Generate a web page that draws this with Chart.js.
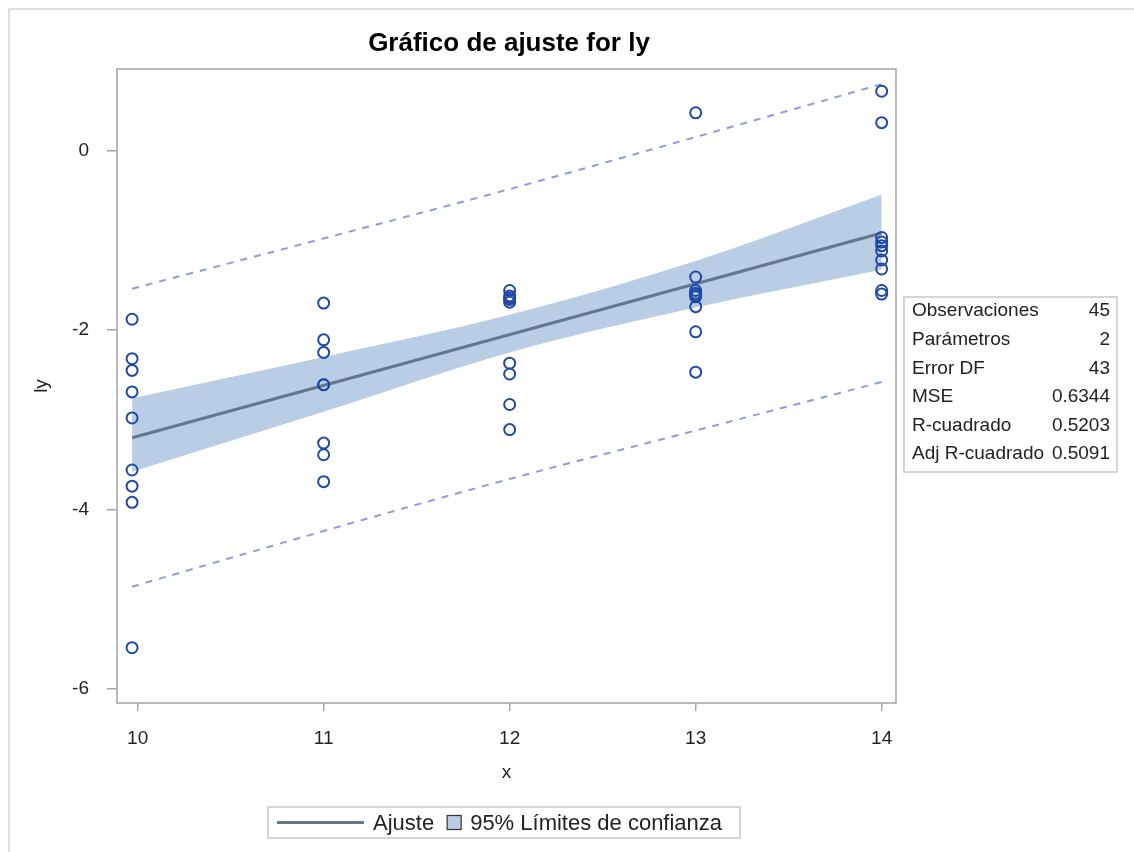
<!DOCTYPE html>
<html>
<head>
<meta charset="utf-8">
<script src="https://cdn.jsdelivr.net/npm/chart.js@4"></script>
<style>
  html, body { margin: 0; padding: 0; background: #fff; }
  #wrap { width: 1134px; height: 852px; position: relative; }
</style>
</head>
<body>
<div id="wrap"><canvas id="myChart" width="1134" height="852"></canvas></div>
<script>
// tick labels
const xTicks = [10, 11, 12, 13, 14];
const yTicks = [-6, -4, -2, 0];

// observations (x, ly)
const obsX = [
  9.97, 9.97, 9.97, 9.97, 9.97, 9.97, 9.97, 9.97, 9.97,
  11, 11, 11, 11, 11, 11, 11, 11,
  12, 12, 12, 12, 12, 12, 12, 12, 12,
  13, 13, 13, 13, 13, 13, 13, 13, 13,
  14, 14, 14, 14, 14, 14, 14, 14, 14, 14
];
const obsY = [
  -1.88, -2.32, -2.45, -2.69, -2.98, -3.56, -3.74, -3.92, -5.54,
  -1.70, -2.11, -2.25, -2.61, -2.61, -3.26, -3.39, -3.69,
  -1.56, -1.62, -1.64, -1.66, -1.69, -2.37, -2.49, -2.83, -3.11,
  0.42, -1.41, -1.56, -1.59, -1.61, -1.63, -1.74, -2.02, -2.47,
  0.66, 0.31, -0.97, -1.02, -1.06, -1.12, -1.22, -1.32, -1.56, -1.60
];

// fit line
const fitX = [9.97, 14];
const fitY = [-3.20, -0.92];

// 95% confidence band
const bandX = [9.97, 11, 12, 13, 14];
const bandUpper = [-2.76, -2.30, -1.83, -1.23, -0.49];
const bandLower = [-3.58, -2.91, -2.25, -1.75, -1.33];

// 95% prediction limits (dashed)
const predX = [9.97, 11, 12, 13, 14];
const predUpper = [-1.54, -0.98, -0.43, 0.15, 0.74];
const predLower = [-4.86, -4.24, -3.66, -3.12, -2.58];

// fit statistics
const statLabels = ["Observaciones", "Parámetros", "Error DF", "MSE", "R-cuadrado", "Adj R-cuadrado"];
const statValues = ["45", "2", "43", "0.6344", "0.5203", "0.5091"];

const FONT = "'Liberation Sans', Arial, sans-serif";
const pointColor = "#2049a5";
const fitColor = "#64778f";
const bandColor = "#b9cde5";
const predColor = "#8f9be0";
const frameColor = "#a4a4a4";

function pairs(xs, ys) {
  return xs.map((x, i) => ({ x: x, y: ys[i] }));
}

Chart.defaults.font.family = FONT;
Chart.defaults.font.size = 19;
Chart.defaults.color = "#222";

const extras = {
  id: "extras",
  afterDraw(chart) {
    const c = chart.ctx;
    const a = chart.chartArea;
    c.save();

    // outer frame
    c.strokeStyle = "#d4d4d4";
    c.lineWidth = 1.5;
    c.beginPath();
    c.moveTo(9, 852);
    c.lineTo(9, 9);
    c.lineTo(1134, 9);
    c.stroke();

    // plot frame
    c.strokeStyle = frameColor;
    c.lineWidth = 1.5;
    c.strokeRect(a.left, a.top, a.right - a.left, a.bottom - a.top);

    // title
    c.fillStyle = "#000";
    c.font = "bold 26px " + FONT;
    c.textAlign = "center";
    c.textBaseline = "middle";
    c.fillText("Gráfico de ajuste for ly", 509, 44);

    // stats table
    c.font = "19px " + FONT;
    const tx = 904, ty = 297, tw = 213, pitch = 28.65;
    const th = 175;
    c.strokeStyle = "#c8c8c8";
    c.lineWidth = 1.5;
    c.strokeRect(tx, ty, tw, th);
    c.fillStyle = "#222";
    c.textBaseline = "middle";
    statLabels.forEach((s, i) => {
      const yy = ty + 14 + i * pitch;
      c.textAlign = "left";
      c.fillText(s, tx + 8, yy);
      c.textAlign = "right";
      c.fillText(statValues[i], tx + tw - 7, yy);
    });

    // legend
    c.font = "22px " + FONT;
    const t1 = "Ajuste", t2 = "95% Límites de confianza";
    const w1 = c.measureText(t1).width, w2 = c.measureText(t2).width;
    const lineW = 87, sw = 14;
    const lx = 268, ly = 807, lh = 31;
    const lwTotal = 9 + lineW + 9 + w1 + 13 + sw + 9 + w2 + 18;
    c.strokeStyle = "#c8c8c8";
    c.lineWidth = 1.5;
    c.strokeRect(lx, ly, lwTotal, lh);
    const cy = ly + lh / 2;
    let px = lx + 9;
    c.strokeStyle = fitColor;
    c.lineWidth = 3;
    c.beginPath();
    c.moveTo(px, cy);
    c.lineTo(px + lineW, cy);
    c.stroke();
    px += lineW + 9;
    c.fillStyle = "#222";
    c.textAlign = "left";
    c.fillText(t1, px, cy + 1);
    px += w1 + 13;
    c.fillStyle = bandColor;
    c.fillRect(px, cy - sw / 2, sw, sw);
    c.strokeStyle = "#333";
    c.lineWidth = 1.2;
    c.strokeRect(px, cy - sw / 2, sw, sw);
    px += sw + 9;
    c.fillStyle = "#222";
    c.fillText(t2, px, cy + 1);

    c.restore();
  }
};

const ctx = document.getElementById("myChart");

new Chart(ctx, {
  type: "scatter",
  data: {
    datasets: [
      {
        label: "ly",
        data: pairs(obsX, obsY),
        showLine: false,
        pointStyle: "circle",
        pointRadius: 5.5,
        pointBorderWidth: 2,
        pointBorderColor: pointColor,
        pointBackgroundColor: "rgba(0,0,0,0)",
        order: 0
      },
      {
        label: "Ajuste",
        data: pairs(fitX, fitY),
        showLine: true,
        borderColor: fitColor,
        borderWidth: 3,
        pointRadius: 0,
        order: 1
      },
      {
        label: "pred upper",
        data: pairs(predX, predUpper),
        showLine: true,
        borderColor: predColor,
        borderWidth: 2,
        borderDash: [7, 7],
        cubicInterpolationMode: "monotone",
        pointRadius: 0,
        order: 2
      },
      {
        label: "pred lower",
        data: pairs(predX, predLower),
        showLine: true,
        borderColor: predColor,
        borderWidth: 2,
        borderDash: [7, 7],
        cubicInterpolationMode: "monotone",
        pointRadius: 0,
        order: 2
      },
      {
        label: "95% Límites de confianza",
        data: pairs(bandX, bandUpper),
        showLine: true,
        borderWidth: 0,
        borderColor: bandColor,
        backgroundColor: bandColor,
        fill: "+1",
        cubicInterpolationMode: "monotone",
        pointRadius: 0,
        order: 3
      },
      {
        label: "band lower",
        data: pairs(bandX, bandLower),
        showLine: true,
        borderWidth: 0,
        borderColor: bandColor,
        fill: false,
        cubicInterpolationMode: "monotone",
        pointRadius: 0,
        order: 3
      }
    ]
  },
  options: {
    responsive: false,
    animation: false,
    layout: { padding: { top: 69, right: 238, bottom: 59, left: 0 } },
    plugins: {
      legend: { display: false },
      tooltip: { enabled: false },
      title: { display: false }
    },
    scales: {
      x: {
        type: "linear",
        min: 9.889,
        max: 14.077,
        afterFit: (s) => { s.height = 90; },
        afterBuildTicks: (s) => { s.ticks = xTicks.map(v => ({ value: v })); },
        border: { display: false },
        grid: { drawOnChartArea: false, drawTicks: true, tickLength: 8, color: frameColor, lineWidth: 1.5 },
        ticks: { padding: 16, color: "#222", maxRotation: 0 },
        title: { display: true, text: "x", color: "#222", padding: { top: 0, bottom: 9 }, font: { size: 19 } }
      },
      y: {
        type: "linear",
        min: -6.156,
        max: 0.908,
        afterFit: (s) => { s.width = 117; },
        afterBuildTicks: (s) => { s.ticks = yTicks.map(v => ({ value: v })); },
        border: { display: false },
        grid: { drawOnChartArea: false, drawTicks: true, tickLength: 10, color: frameColor, lineWidth: 1.5 },
        ticks: { padding: 18, color: "#222" },
        title: { display: true, text: "ly", color: "#222", padding: { top: 30, bottom: 0 }, font: { size: 19 } }
      }
    }
  },
  plugins: [extras]
});
</script>
</body>
</html>
